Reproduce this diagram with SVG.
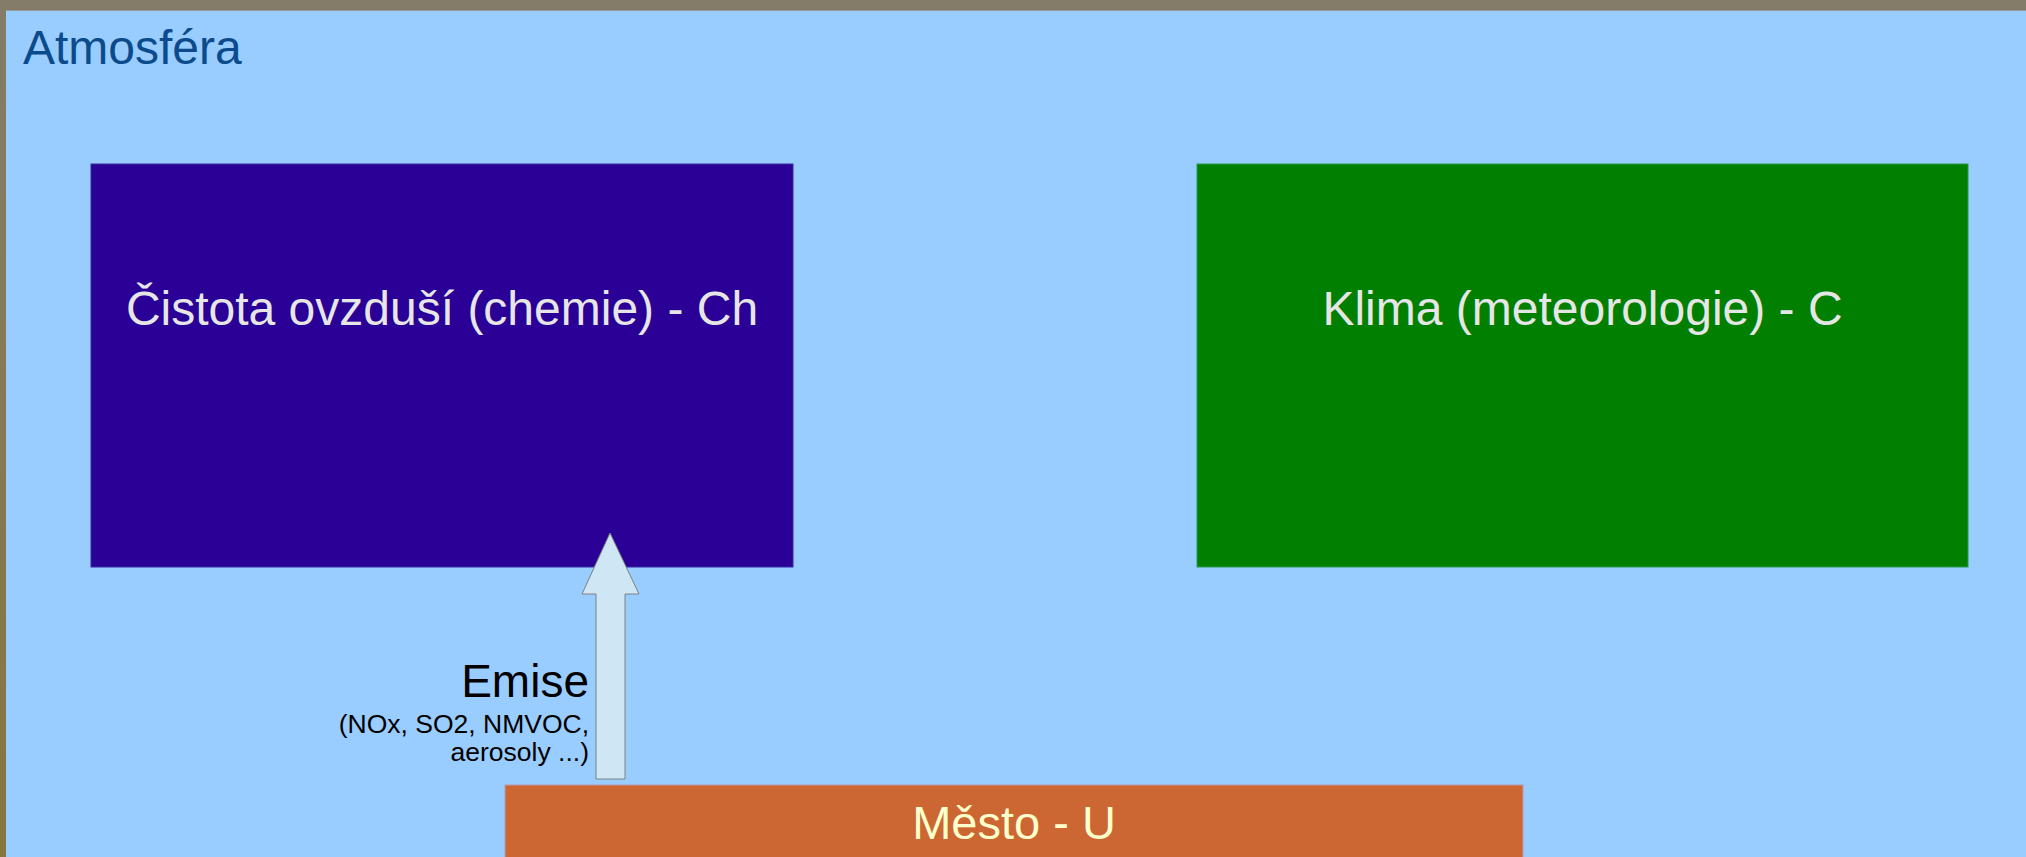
<svg xmlns="http://www.w3.org/2000/svg" width="2026" height="857" viewBox="0 0 2026 857">
<defs>
<linearGradient id="edge" x1="0" y1="0" x2="0" y2="1">
<stop offset="0" stop-color="#847c68"/>
<stop offset="1" stop-color="#877540"/>
</linearGradient>
<style>
text{font-family:"Liberation Sans",Arial,sans-serif}
.lbl{font-size:48px;fill:#e6e6e6;text-anchor:middle}
.small{font-size:26.5px;fill:#000;text-anchor:end}
</style>
</defs>
<rect x="0" y="0" width="2026" height="857" fill="url(#edge)"/>
<rect x="0" y="0" width="2026" height="11" fill="#847c68"/>
<rect x="6" y="11" width="2020" height="846" fill="#99ccff"/>
<line x1="6" y1="10.5" x2="2026" y2="10.5" stroke="#9a9a9a" stroke-width="1"/>
<text x="23" y="64" font-size="48" fill="#0b4b8c">Atmosféra</text>
<g id="chemie">
<rect x="91" y="164" width="702" height="403" fill="#2a0096" stroke="#3b28a8" stroke-width="1"/>
<text class="lbl" x="442" y="325">Čistota ovzduší (chemie) - Ch</text>
</g>
<g id="klima">
<rect x="1197" y="164" width="771" height="403" fill="#007f00" stroke="#2a9a4a" stroke-width="1"/>
<text class="lbl" x="1582.5" y="325">Klima (meteorologie) - C</text>
</g>
<g id="mesto">
<rect x="505" y="785" width="1018" height="80" fill="#cc6633" stroke="#b99ab0" stroke-width="1"/>
<text x="1014" y="839" font-size="47" fill="#ffffcc" text-anchor="middle">Město - U</text>
</g>
<g id="connectors">
<polygon points="610,533 639,594 625,594 625,779 596,779 596,594 582,594" fill="#cfe6f4" stroke="#808080" stroke-width="1"/>
<text x="589" y="697" font-size="46" fill="#000" text-anchor="end">Emise</text>
<text class="small" x="589" y="733">(NOx, SO2, NMVOC,</text>
<text class="small" x="589" y="761">aerosoly ...)</text>
</g>
</svg>
